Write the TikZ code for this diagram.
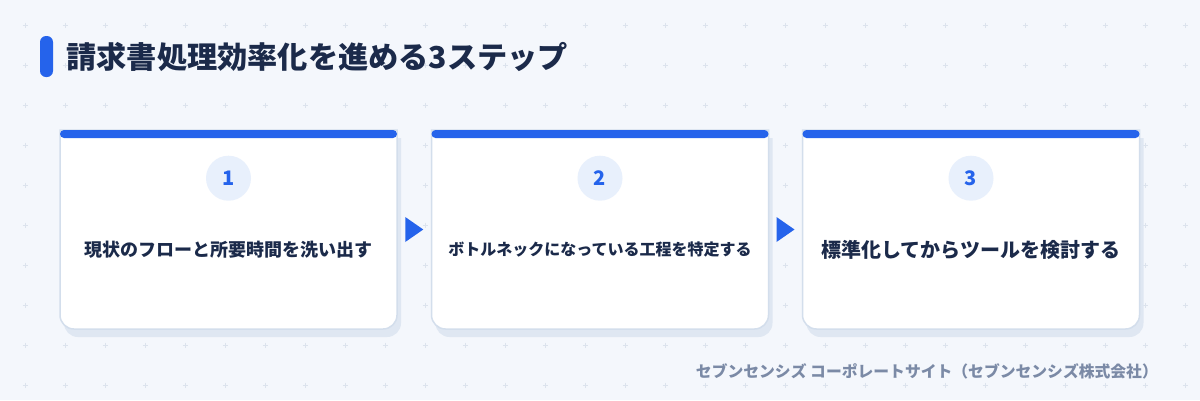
\documentclass[tikz,border=0pt]{standalone}
\usepackage{fontspec}
\setmainfont{Noto Sans CJK JP}
\usetikzlibrary{positioning,calc,shadows}
\definecolor{bgc}{HTML}{F4F7FC}
\definecolor{mainblue}{HTML}{2563EB}
\definecolor{navy}{HTML}{1B2A4A}
\definecolor{cardline}{HTML}{D3DEEC}
\definecolor{shadowc}{HTML}{DFE7F2}
\definecolor{numbg}{HTML}{E8F0FC}
\definecolor{gridc}{HTML}{DCE3ED}
\definecolor{footc}{HTML}{7B8AA6}

\begin{document}
\begin{tikzpicture}[x=1pt, y=-1pt,
    gridmark/.style = {draw=gridc, line width=0.7pt},
     cardpos/.style = {rectangle, minimum width=337pt, minimum height=199pt,
                       inner sep=0pt, outer sep=0pt},% geometry only
     cardbox/.style = {draw=cardline, line width=1.5pt, fill=white,
                       drop shadow={shadow xshift=4pt, shadow yshift=-8pt,
                                    fill=shadowc, opacity=1}},
      accent/.style = {rectangle, fill=mainblue, rounded corners=6pt,
                       minimum width=13pt, minimum height=41pt, inner sep=0pt},
         num/.style = {circle, fill=numbg, minimum size=45pt, inner sep=0pt,
                       text=mainblue, font=\bfseries\fontsize{20}{20}\selectfont},
         lbl/.style = {text=navy, inner sep=0pt},
                    ]
\useasboundingbox[fill=bgc] (0,0) rectangle (1200,400);
% background marks
\foreach \gx in {25,65,...,1185}
  \foreach \gy in {25,65,...,385}
    \draw[gridmark] (\gx-2.5,\gy) -- (\gx+2.5,\gy) (\gx,\gy-2.5) -- (\gx,\gy+2.5);
% heading
\node[accent] (acc) at (46.5,56.5) {};
\node[lbl, right=13pt of acc, font=\bfseries\fontsize{30.2}{31}\selectfont]
     (title) {請求書処理効率化を進める3ステップ};
% cards
\foreach \i/\x/\fs/\txt in {1/228.5/18/現状のフローと所要時間を洗い出す,
                             2/600/16/ボトルネックになっている工程を特定する,
                             3/971/20/標準化してからツールを検討する}{
  \node[cardpos] (c\i) at (\x,229.5) {};
  \path[cardbox] (c\i.north) -- (c\i.north east)
        [rounded corners=14pt] -- (c\i.south east) -- (c\i.south west)
        [sharp corners] -- (c\i.north west) -- cycle;
  \fill[mainblue, rounded corners=4pt] (c\i.north west) rectangle ($(c\i.north east)+(0,8)$);
  \node[num, below=25.5pt of c\i.north] (n\i) {\i};
  \node[lbl, font=\bfseries\fontsize{\fs}{\fs}\selectfont]
       (t\i) at ($(c\i.center)+(0,20)$) {\txt};
}
% arrows between cards
\foreach \a/\b in {1/2,2/3}{
  \coordinate (m\a) at ($(c\a.east)!0.5!(c\b.west)$);
  \fill[mainblue] ($(m\a)+(-9,-12.5)$) -- ($(m\a)+(9,0)$) -- ($(m\a)+(-9,12.5)$) -- cycle;
}
% source
\node[lbl, text=footc, anchor=east, font=\bfseries\fontsize{15.8}{16}\selectfont]
     (src) at (1158,371) {セブンセンシズ コーポレートサイト（セブンセンシズ株式会社）};
\end{tikzpicture}
\end{document}
